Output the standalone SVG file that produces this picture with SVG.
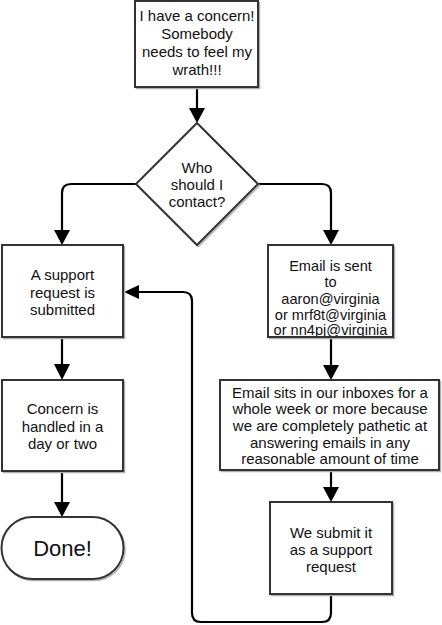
<svg xmlns="http://www.w3.org/2000/svg" width="442" height="625" viewBox="0 0 442 625">
<style>
.box{fill:#fff;stroke:#333;stroke-width:2}
.sh{fill:none;stroke:#b0b0b0;stroke-width:1.5}
.t{font-family:"Liberation Sans",Arial,sans-serif;font-size:15px;fill:#111;text-anchor:middle}
.sm{font-size:14.6px}
.big{font-size:22px}
.c{fill:none;stroke:#000;stroke-width:2.2;stroke-linejoin:round}
.ah{fill:#000}
</style>
<rect width="442" height="625" fill="#fff"/>
<g id="connectors">
<path class="c" d="M197,88 V109"/>
<polygon class="ah" points="189,108 205,108 197,123"/>
<path class="c" d="M136,184 H71 Q62,184 62,193 V231"/>
<polygon class="ah" points="54,230 70,230 62,245"/>
<path class="c" d="M258,184 H322 Q331,184 331,193 V231"/>
<polygon class="ah" points="323,230 339,230 331,245"/>
<path class="c" d="M62,338 V365"/>
<polygon class="ah" points="54,364 70,364 62,380"/>
<path class="c" d="M62,472 V503"/>
<polygon class="ah" points="54,502 70,502 62,517"/>
<path class="c" d="M331,338 V366"/>
<polygon class="ah" points="323,365 339,365 331,380"/>
<path class="c" d="M331,471 V488"/>
<polygon class="ah" points="323,487 339,487 331,502"/>
<path class="c" d="M331,595 V613 Q331,622 322,622 H201 Q192,622 192,613 V301 Q192,292 183,292 H138"/>
<polygon class="ah" points="124,292 139,285 139,299"/>
</g>
<g id="n-concern">
<rect class="sh" x="136.5" y="2.5" width="123" height="86"/>
<rect class="box" x="135" y="1" width="123" height="86"/>
<text class="t" x="197" y="21">I have a concern!</text>
<text class="t" x="197" y="39">Somebody</text>
<text class="t" x="197" y="57">needs to feel my</text>
<text class="t" x="197" y="74.5">wrath!!!</text>
</g>
<g id="n-decision">
<polygon class="sh" points="198.5,124.5 259.5,185.5 198.5,246.5 137.5,185.5"/>
<polygon class="box" points="197,123 258,184 197,245 136,184"/>
<text class="t" x="197" y="173">Who</text>
<text class="t" x="197" y="190">should I</text>
<text class="t" x="197" y="207">contact?</text>
</g>
<g id="n-support">
<rect class="sh" x="3.5" y="246.5" width="121" height="92"/>
<rect class="box" x="2" y="245" width="121" height="92"/>
<text class="t" x="62.5" y="279.5">A support</text>
<text class="t" x="62.5" y="297.5">request is</text>
<text class="t" x="62.5" y="315">submitted</text>
</g>
<g id="n-handled">
<rect class="sh" x="3.5" y="381.5" width="121" height="91"/>
<rect class="box" x="2" y="380" width="121" height="91"/>
<text class="t" x="62.5" y="414">Concern is</text>
<text class="t" x="62.5" y="431.5">handled in a</text>
<text class="t" x="62.5" y="448.5">day or two</text>
</g>
<g id="n-done">
<rect class="sh" x="3" y="518.5" width="122" height="62" rx="31"/>
<rect class="box" x="1.5" y="517" width="122" height="62" rx="31"/>
<text class="t big" x="62.5" y="556">Done!</text>
</g>
<g id="n-email">
<rect class="sh" x="269.5" y="246.5" width="125" height="92"/>
<rect class="box" x="268" y="245" width="125" height="92"/>
<text class="t sm" x="330.5" y="270.5">Email is sent</text>
<text class="t sm" x="330.5" y="287">to</text>
<text class="t sm" x="330.5" y="303.5">aaron@virginia</text>
<text class="t sm" x="330.5" y="319.5">or mrf8t@virginia</text>
<text class="t sm" x="330.5" y="335">or nn4pj@virginia</text>
<rect x="268" y="336" width="125" height="2" fill="#333"/>
</g>
<g id="n-inbox">
<rect class="sh" x="221.5" y="381.5" width="219" height="90"/>
<rect class="box" x="220" y="380" width="219" height="90"/>
<text class="t" x="330" y="397.5">Email sits in our inboxes for a</text>
<text class="t" x="330" y="414">whole week or more because</text>
<text class="t" x="330" y="430.5">we are completely pathetic at</text>
<text class="t" x="330" y="447.5">answering emails in any</text>
<text class="t" x="330" y="464">reasonable amount of time</text>
</g>
<g id="n-submit">
<rect class="sh" x="271.5" y="503.5" width="122" height="92"/>
<rect class="box" x="270" y="502" width="122" height="92"/>
<text class="t" x="331" y="537.5">We submit it</text>
<text class="t" x="331" y="555">as a support</text>
<text class="t" x="331" y="572">request</text>
</g>
</svg>
